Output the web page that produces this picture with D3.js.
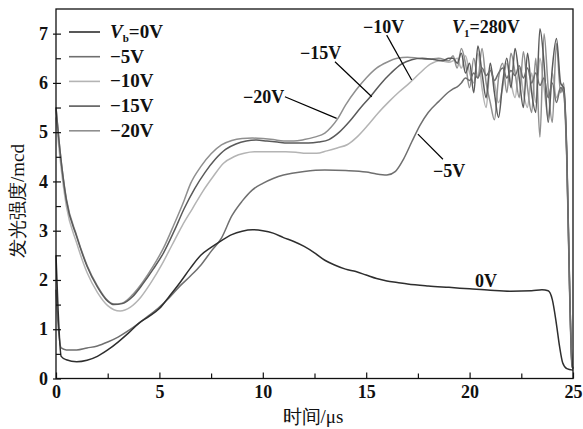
<!DOCTYPE html>
<html>
<head>
<meta charset="utf-8">
<script src="https://cdn.jsdelivr.net/npm/d3@7"></script>
<style>
  body { margin: 0; background: #fff; }
  text { font-family: "Liberation Serif", serif; }
</style>
</head>
<body>
<div class="chart"></div>
<script>
const w = 583;
const h = 429;

// time (us), intensity (mcd)
const s0V = [[0,2.5],[0.1,1.4],[0.25,0.45],[0.5,0.38],[1,0.34],[1.5,0.37],[2,0.45],[2.5,0.58],[3,0.74],[3.5,0.92],[4,1.12],[4.5,1.26],[5,1.42],[5.5,1.68],[6,1.95],[6.5,2.24],[7,2.5],[7.5,2.66],[8,2.8],[8.5,2.92],[9,2.99],[9.5,3.02],[10,3.0],[10.5,2.95],[11,2.86],[11.5,2.78],[12,2.68],[12.5,2.55],[13,2.4],[13.5,2.3],[14,2.22],[14.5,2.17],[15,2.1],[15.5,2.03],[16,1.98],[16.5,1.95],[17,1.92],[18,1.88],[19,1.85],[20,1.82],[21,1.79],[22,1.77],[23,1.78],[23.5,1.8],[23.8,1.78],[24,1.6],[24.2,1.1],[24.35,0.65],[24.5,0.32],[24.7,0.2],[25,0.17]];

const s5V = [[0,1.8],[0.1,1.1],[0.25,0.62],[0.5,0.58],[1,0.58],[1.5,0.62],[2,0.66],[2.5,0.74],[3,0.84],[3.5,0.97],[4,1.12],[4.5,1.28],[5,1.45],[5.5,1.65],[6,1.88],[6.5,2.08],[7,2.3],[7.5,2.58],[8,2.85],[8.5,3.3],[9,3.6],[9.5,3.83],[10,3.96],[10.5,4.06],[11,4.13],[11.5,4.17],[12,4.2],[13,4.23],[14,4.22],[15,4.19],[15.5,4.15],[16,4.13],[16.4,4.2],[16.8,4.45],[17.2,4.8],[17.6,5.14],[18,5.4],[18.5,5.62],[19,5.82],
  [19.2,5.88],[19.4,5.92],[19.6,6.0],[19.8,6.1],[20,6.05],[20.2,6.2],[20.4,6.1],[20.6,6.3],[20.8,6.15],[21,6.25],[21.2,6.05],[21.4,6.2],[21.6,6.3],[21.8,6.1],[22,6.25],[22.2,6.15],[22.4,6.35],[22.6,6.1],[22.8,6.3],[23,6.0],[23.2,6.2],[23.4,5.95],[23.6,6.1],[23.8,5.7],[24,6.0],[24.2,5.6],[24.4,5.9],[24.55,5.8],[24.7,4.5],[24.85,1.6],[24.95,0.3],[25,0.2]];

const s10V = [[0,5.3],[0.2,4.45],[0.5,3.5],[1,2.75],[1.5,2.15],[2,1.75],[2.5,1.48],[3.1,1.37],[3.6,1.45],[4.1,1.65],[4.6,1.95],[5.1,2.3],[5.6,2.7],[6.1,3.1],[6.6,3.45],[7.1,3.8],[7.6,4.1],[8.1,4.37],[8.6,4.5],[9.1,4.57],[9.6,4.6],[10.1,4.6],[10.6,4.6],[11.1,4.6],[11.6,4.59],[12.1,4.57],[12.6,4.57],[13.1,4.62],[13.6,4.68],[14.1,4.75],[14.6,4.92],[15.1,5.15],[15.6,5.4],[16.1,5.62],[16.6,5.82],[17.1,6.0],[17.6,6.2],[18.1,6.38],[18.6,6.45],[19,6.42],
  [19.2,6.45],[19.4,6.5],[19.6,6.3],[19.8,6.55],[20,6.2],[20.2,6.0],[20.4,6.6],[20.6,5.9],[20.8,5.5],[21,6.3],[21.2,6.0],[21.4,5.6],[21.6,5.9],[21.8,6.4],[22,6.0],[22.2,5.7],[22.4,6.3],[22.6,5.8],[22.8,5.5],[23,6.2],[23.2,5.6],[23.4,6.5],[23.6,5.9],[23.8,5.3],[24,6.2],[24.2,5.7],[24.4,5.9],[24.55,5.8],[24.7,4.4],[24.85,1.5],[24.95,0.28],[25,0.2]];

const s15V = [[0,5.5],[0.2,4.6],[0.5,3.62],[1,2.88],[1.5,2.28],[2,1.86],[2.5,1.57],[2.8,1.5],[3.2,1.52],[3.7,1.66],[4.2,1.92],[4.7,2.22],[5.2,2.55],[5.7,2.98],[6.2,3.45],[6.7,3.85],[7.2,4.18],[7.7,4.45],[8.2,4.65],[8.7,4.76],[9.2,4.82],[9.7,4.84],[10.2,4.82],[10.7,4.8],[11.2,4.78],[11.7,4.78],[12.2,4.78],[12.7,4.8],[13.2,4.85],[13.7,5.0],[14.2,5.22],[14.7,5.48],[15.2,5.72],[15.7,5.98],[16.2,6.2],[16.7,6.38],[17.2,6.47],[17.7,6.5],[18.2,6.48],[18.7,6.45],[19,6.5],
  [19.2,6.5],[19.4,6.4],[19.6,6.6],[19.8,6.2],[20,6.4],[20.2,5.8],[20.4,6.75],[20.6,6.2],[20.8,5.7],[21,6.4],[21.2,5.8],[21.4,5.3],[21.6,6.0],[21.8,6.5],[22,5.9],[22.2,6.7],[22.4,6.1],[22.6,5.5],[22.8,6.6],[23,5.8],[23.2,5.4],[23.4,7.1],[23.6,6.4],[23.8,5.2],[24,6.3],[24.2,6.9],[24.4,6.0],[24.55,5.9],[24.7,4.6],[24.85,1.6],[24.95,0.3],[25,0.2]];

const s20V = [[0,5.5],[0.2,4.6],[0.5,3.65],[1,2.9],[1.5,2.3],[2,1.88],[2.5,1.58],[2.8,1.51],[3.2,1.53],[3.7,1.7],[4.2,1.96],[4.7,2.28],[5.2,2.65],[5.7,3.12],[6.2,3.62],[6.5,3.95],[7,4.3],[7.5,4.56],[8,4.74],[8.5,4.83],[9,4.87],[9.5,4.88],[10,4.87],[10.5,4.85],[11,4.82],[11.5,4.82],[12,4.85],[12.5,4.9],[13,4.98],[13.3,5.1],[13.6,5.26],[14,5.55],[14.5,5.85],[15,6.1],[15.5,6.3],[16,6.42],[16.5,6.5],[17,6.52],[17.5,6.5],[18,6.48],[18.5,6.5],[19,6.45],
  [19.2,6.55],[19.4,6.3],[19.6,6.7],[19.8,6.4],[20,5.9],[20.2,6.5],[20.4,6.1],[20.6,6.7],[20.8,6.0],[21,5.6],[21.2,5.25],[21.4,6.1],[21.6,6.4],[21.8,5.8],[22,6.6],[22.2,6.2],[22.4,5.7],[22.6,6.63],[22.8,5.9],[23,5.4],[23.2,6.5],[23.4,4.9],[23.6,7.0],[23.8,5.9],[24,5.2],[24.2,6.8],[24.4,5.8],[24.55,6.0],[24.7,4.5],[24.85,1.5],[24.95,0.25],[25,0.2]];

const seriesNames = ["0V", "−5V", "−10V", "−15V", "−20V"];
const seriesData = [s0V, s5V, s10V, s15V, s20V];
const seriesColors = ["#2e2e2e", "#6f6f6f", "#b4b4b4", "#5a5a5a", "#8f8f8f"];

const xTicks = [0, 5, 10, 15, 20, 25];
const xMinor = [2.5, 7.5, 12.5, 17.5, 22.5];
const yTicks = [0, 1, 2, 3, 4, 5, 6, 7];
const yMinor = [0.5, 1.5, 2.5, 3.5, 4.5, 5.5, 6.5];

// label text, text anchor [t, v], leader from / to [t, v]
const notes = [
  {text: "−20V", at: [9.04, 5.59], from: [11.07, 5.72], to: [13.57, 5.28]},
  {text: "−15V", at: [11.8, 6.48], from: [13.49, 6.43], to: [15.27, 5.72]},
  {text: "−10V", at: [14.85, 7.02], from: [15.99, 6.97], to: [17.2, 6.06]},
  {text: "−5V", at: [18.23, 4.09], from: [17.5, 4.96], to: [18.71, 4.45]},
  {text: "0V", at: [20.26, 1.86]}
];

const svg = d3.select(".chart")
  .append("svg")
  .attr("width", w)
  .attr("height", h);

const x = d3.scaleLinear().domain([0, 25]).range([56, 573]);
const y = d3.scaleLinear().domain([0, 7.5]).range([378.5, 9]);

const line = d3.line()
  .x(d => x(d[0]))
  .y(d => y(d[1]))
  .curve(d3.curveMonotoneX);

// curves, lightest first
const order = [2, 4, 3, 1, 0];
svg.append("g")
  .selectAll("path")
  .data(order)
  .enter().append("path")
  .attr("d", i => line(seriesData[i]))
  .attr("fill", "none")
  .attr("stroke", i => seriesColors[i])
  .attr("stroke-width", 1.5)
  .attr("stroke-linejoin", "round");

// axes
const xAxis = svg.append("g")
  .attr("transform", "translate(0,378.5)")
  .call(d3.axisBottom(x).tickValues(xTicks).tickSizeInner(-6).tickSizeOuter(0).tickPadding(6));
svg.append("g")
  .attr("transform", "translate(0,378.5)")
  .call(d3.axisBottom(x).tickValues(xMinor).tickFormat("").tickSizeInner(-5).tickSizeOuter(0));

const yAxis = svg.append("g")
  .attr("transform", "translate(56,0)")
  .call(d3.axisLeft(y).tickValues(yTicks).tickSizeInner(-5).tickSizeOuter(0).tickPadding(8));
yAxis.selectAll(".tick").append("line").attr("x2", -3).attr("stroke", "#000");
svg.append("g")
  .attr("transform", "translate(56,0)")
  .call(d3.axisLeft(y).tickValues(yMinor).tickFormat("").tickSizeInner(-5).tickSizeOuter(0));

svg.selectAll(".tick line").attr("stroke", "#111").attr("stroke-width", 1.2);
svg.selectAll(".domain").remove();
svg.selectAll(".tick text")
  .attr("font-family", "Liberation Serif")
  .attr("font-size", 18)
  .attr("font-weight", "bold")
  .attr("fill", "#111");
xAxis.selectAll(".tick text").attr("dy", "0.75em");

svg.append("rect")
  .attr("x", 56).attr("y", 9)
  .attr("width", 517).attr("height", 369.5)
  .attr("fill", "none")
  .attr("stroke", "#111")
  .attr("stroke-width", 1.3);

// axis titles
svg.append("text")
  .attr("x", 313).attr("y", 423)
  .attr("text-anchor", "middle")
  .attr("font-family", "Liberation Serif, Noto Sans CJK SC")
  .attr("font-size", 19)
  .attr("fill", "#111")
  .text("时间/μs");

svg.append("text")
  .attr("transform", "translate(24,201) rotate(-90)")
  .attr("text-anchor", "middle")
  .attr("font-family", "Liberation Serif, Noto Sans CJK SC")
  .attr("font-size", 19)
  .attr("fill", "#111")
  .text("发光强度/mcd");

// legend
const legend = svg.append("g")
  .selectAll("g")
  .data(seriesNames)
  .enter().append("g")
  .attr("transform", (d, i) => `translate(69,${32 + i * 24.7})`);

legend.append("line")
  .attr("x1", 0).attr("x2", 31)
  .attr("stroke", (d, i) => seriesColors[i])
  .attr("stroke-width", 1.6);

const legendText = legend.append("text")
  .attr("x", 41).attr("y", 6)
  .attr("font-size", 19)
  .attr("font-weight", "bold")
  .attr("fill", "#111");
legendText.each(function(d, i) {
  const t = d3.select(this);
  if (i === 0) {
    t.append("tspan").attr("font-style", "italic").text("V");
    t.append("tspan").attr("font-size", 11).attr("dy", 4).text("b");
    t.append("tspan").attr("dy", -4).text("=" + d);
  } else {
    t.text(d);
  }
});

// annotations
const ann = svg.append("g");
ann.selectAll("line")
  .data(notes.filter(d => d.from))
  .enter().append("line")
  .attr("x1", d => x(d.from[0])).attr("y1", d => y(d.from[1]))
  .attr("x2", d => x(d.to[0])).attr("y2", d => y(d.to[1]))
  .attr("stroke", "#000")
  .attr("stroke-width", 1.2);

ann.selectAll("text")
  .data(notes)
  .enter().append("text")
  .attr("x", d => x(d.at[0]))
  .attr("y", d => y(d.at[1]))
  .attr("font-size", 18)
  .attr("font-weight", "bold")
  .attr("fill", "#111")
  .text(d => d.text);

const vLabel = svg.append("text")
  .attr("x", x(19.15)).attr("y", y(7.01))
  .attr("font-size", 18)
  .attr("font-weight", "bold")
  .attr("fill", "#111");
vLabel.append("tspan").attr("font-style", "italic").text("V");
vLabel.append("tspan").attr("font-size", 11).attr("dy", 4).text("1");
vLabel.append("tspan").attr("dy", -4).text("=280V");
</script>
</body>
</html>
